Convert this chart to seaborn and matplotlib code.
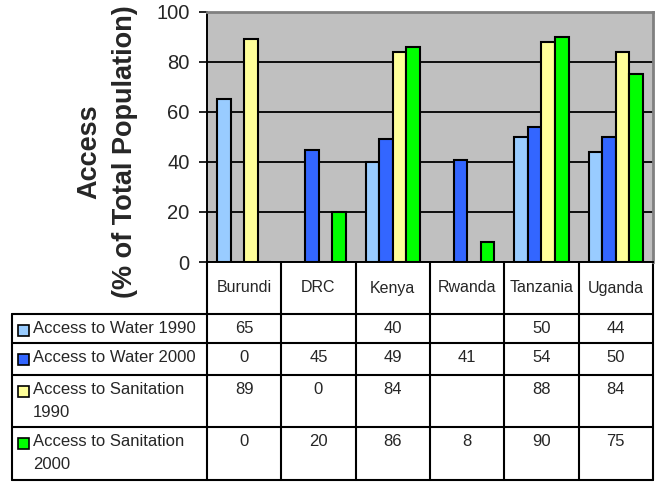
import numpy as np
import pandas as pd
import matplotlib.pyplot as plt
import seaborn as sns
from matplotlib.patches import Rectangle
from matplotlib.lines import Line2D
from matplotlib.transforms import blended_transform_factory

# ===============================
# Data
# ===============================
countries = ["Burundi", "DRC", "Kenya", "Rwanda", "Tanzania", "Uganda"]
series = ["Access to Water 1990", "Access to Water 2000",
          "Access to Sanitation 1990", "Access to Sanitation 2000"]
row_labels = ["Access to Water 1990", "Access to Water 2000",
              "Access to Sanitation\n1990", "Access to Sanitation\n2000"]
water_1990 = [65, np.nan, 40, np.nan, 50, 44]
water_2000 = [0, 45, 49, 41, 54, 50]
sanit_1990 = [89, 0, 84, np.nan, 88, 84]
sanit_2000 = [0, 20, 86, 8, 90, 75]
colors = ["#99CCFF", "#3366FF", "#FFFF99", "#00FF00"]
y_ticks = [0, 20, 40, 60, 80, 100]

values = [water_1990, water_2000, sanit_1990, sanit_2000]
df = pd.DataFrame({
    "country": countries * len(series),
    "series": np.repeat(series, len(countries)),
    "value": np.concatenate(values),
}).dropna()

# ===============================
# Figure / style
# ===============================
sns.set_style("white")
plt.rcParams["font.family"] = ["Liberation Sans", "DejaVu Sans"]

W, H = 659, 482
fig = plt.figure(figsize=(W / 100, H / 100), dpi=100)
ax_l, ax_r, ax_t, ax_b = 207, 653, 12, 262
ax = fig.add_axes([ax_l / W, 1 - ax_b / H, (ax_r - ax_l) / W, (ax_b - ax_t) / H])
ax_w, ax_h = ax_r - ax_l, ax_b - ax_t

sns.barplot(data=df, x="country", y="value", hue="series", order=countries,
            hue_order=series, palette=colors, saturation=1, width=0.73,
            errorbar=None, edgecolor="black", linewidth=1.5, legend=False,
            ax=ax, zorder=3)

ax.set_facecolor("#C0C0C0")
ax.set_xlim(-0.5, len(countries) - 0.5)
ax.set_ylim(0, 100)
ax.set_yticks(y_ticks)
ax.set_xticks([])
ax.set_xlabel("")
ax.yaxis.grid(True, color="black", linewidth=1.3)
ax.set_axisbelow(True)
ax.tick_params(axis="y", direction="out", length=6, width=1.2, color="black",
               labelsize=14.5, pad=6.5, left=True)
for side in ["top", "right"]:
    ax.spines[side].set_color("#808080")
    ax.spines[side].set_linewidth(2)
for side in ["left", "bottom"]:
    ax.spines[side].set_color("black")
    ax.spines[side].set_linewidth(1.4)

ax.set_ylabel("Access\n(% of Total Population)", fontsize=19.5, fontweight="bold",
              linespacing=1.45)
ax.yaxis.set_label_coords((107 - ax_l) / ax_w, (ax_b - 152) / ax_h)
ax.yaxis.label.set_verticalalignment("center")

# ===============================
# Data table under the chart
# ===============================
def py(p):  # pixel row -> axes fraction
    return (ax_b - p) / ax_h

def px(p):  # pixel column -> axes fraction
    return (p - ax_l) / ax_w

tr = blended_transform_factory(ax.transData, ax.transAxes)
rows = [262, 314, 343, 375, 427, 480]
tab_left = 12

for r in rows[1:]:
    ax.add_line(Line2D([px(tab_left), 1], [py(r), py(r)], transform=ax.transAxes,
                       color="black", lw=1.5, clip_on=False))
ax.add_line(Line2D([px(tab_left), px(tab_left)], [py(rows[1]), py(rows[-1])],
                   transform=ax.transAxes, color="black", lw=1.5, clip_on=False))
for i in range(len(countries) + 1):
    ax.add_line(Line2D([i - 0.5, i - 0.5], [py(rows[0]), py(rows[-1])], transform=tr,
                       color="black", lw=1.5, clip_on=False))

for i, c in enumerate(countries):
    ax.text(i, py((rows[0] + rows[1]) / 2), c, transform=tr, ha="center",
            va="center", fontsize=11.5)

for j, (lab, vals, col) in enumerate(zip(row_labels, values, colors)):
    top = rows[j + 1]
    ax.add_patch(Rectangle((px(18), py(top + 22)), 11 / ax_w, 11 / ax_h,
                           transform=ax.transAxes, facecolor=col, edgecolor="black",
                           lw=1.2, clip_on=False))
    ax.text(px(33), py(top + 7), lab, transform=ax.transAxes, ha="left", va="top",
            fontsize=12, linespacing=1.65)
    for i, v in enumerate(vals):
        if not np.isnan(v):
            ax.text(i, py(top + 7), f"{v:g}", transform=tr, ha="center", va="top",
                    fontsize=12)

fig.savefig("out.png", dpi=100)
